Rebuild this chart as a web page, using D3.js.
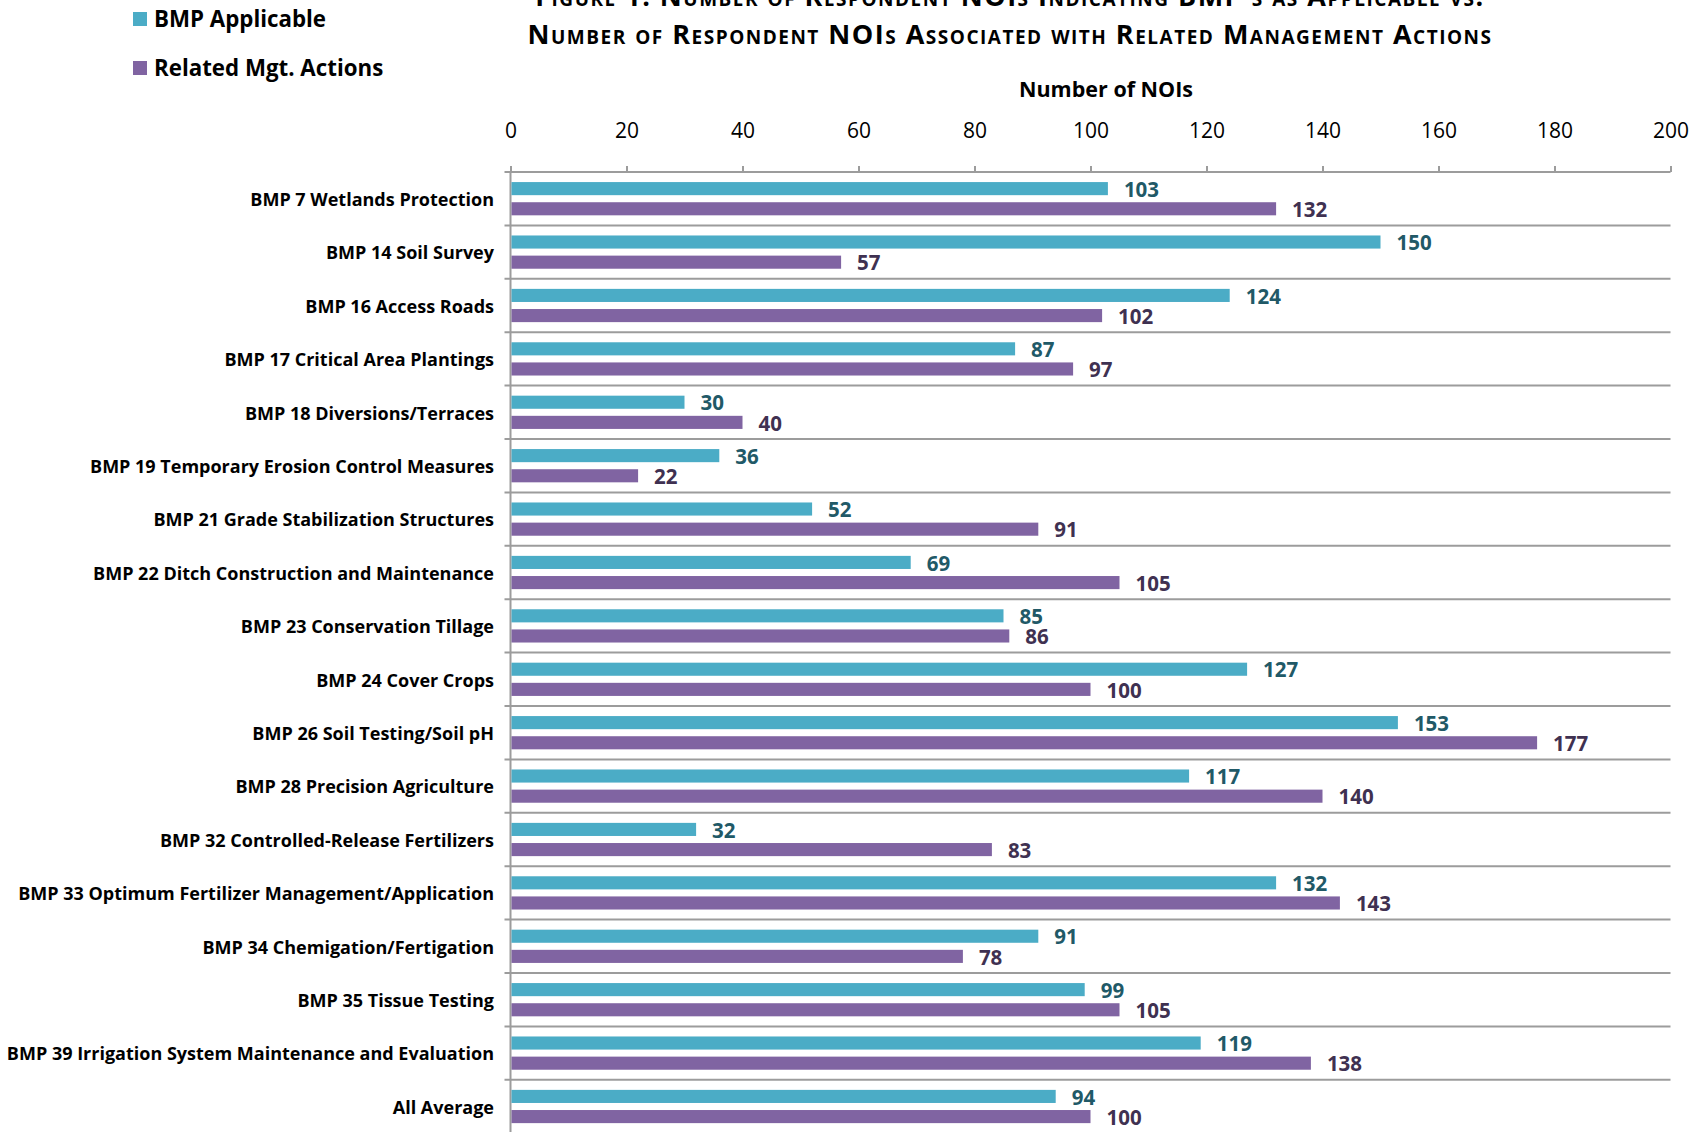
<!DOCTYPE html>
<html>
<head>
<meta charset="utf-8">
<script src="https://cdn.jsdelivr.net/npm/d3@7"></script>
<style>
  body { margin: 0; background: #fff; }
  svg { display: block; font-family: "Open Sans", Lato, sans-serif; }
</style>
</head>
<body>
<div id="chart"></div>
<script>
const categories = [
  "BMP 7 Wetlands Protection",
  "BMP 14 Soil Survey",
  "BMP 16 Access Roads",
  "BMP 17 Critical Area Plantings",
  "BMP 18 Diversions/Terraces",
  "BMP 19 Temporary Erosion Control Measures",
  "BMP 21 Grade Stabilization Structures",
  "BMP 22 Ditch Construction and Maintenance",
  "BMP 23 Conservation Tillage",
  "BMP 24 Cover Crops",
  "BMP 26 Soil Testing/Soil pH",
  "BMP 28 Precision Agriculture",
  "BMP 32 Controlled-Release Fertilizers",
  "BMP 33 Optimum Fertilizer Management/Application",
  "BMP 34 Chemigation/Fertigation",
  "BMP 35 Tissue Testing",
  "BMP 39 Irrigation System Maintenance and Evaluation",
  "All Average"
];
const applicable = [103, 150, 124, 87, 30, 36, 52, 69, 85, 127, 153, 117, 32, 132, 91, 99, 119, 94];
const related = [132, 57, 102, 97, 40, 22, 91, 105, 86, 100, 177, 140, 83, 143, 78, 105, 138, 100];
const seriesNames = ["BMP Applicable", "Related Mgt. Actions"];
const xTicks = [0, 20, 40, 60, 80, 100, 120, 140, 160, 180, 200];
const titleLines = [
  "Figure 1:  Number of Respondent NOIs Indicating BMP's as Applicable vs.",
  "Number of Respondent NOIs Associated with Related Management Actions"
];

const W = 1707, H = 1132;
const fill = ["#4BACC6", "#8064A2"];
const labelFill = ["#215967", "#3F3151"];
const gridColor = "#9c9c9c";

const svg = d3.select("#chart").append("svg")
  .attr("width", W)
  .attr("height", H);

const x = d3.scaleLinear().domain([0, 200]).range([510.5, 1670.5]);
const y = d3.scaleBand().domain(categories).range([172, 172 + 53.4 * categories.length]);
const ySub = d3.scaleBand().domain([0, 1]).range([0, y.bandwidth()])
  .paddingInner(0.35).paddingOuter(0.5);

// title (first line is cut by the top edge, as in the source)
svg.append("g").selectAll("text")
  .data(titleLines)
  .join("text")
    .attr("x", 1010)
    .attr("y", (d, i) => 6 + i * 37.5)
    .attr("text-anchor", "middle")
    .style("font-variant", "small-caps")
    .style("letter-spacing", "1.5px")
    .attr("font-weight", "bold")
    .attr("font-size", 27)
    .text(d => d);

// legend
const legend = svg.append("g");
seriesNames.forEach((name, i) => {
  legend.append("rect")
    .attr("x", 133).attr("y", 12 + i * 49)
    .attr("width", 14).attr("height", 14)
    .attr("fill", fill[i]);
  legend.append("text")
    .attr("x", 154).attr("y", 19 + i * 49)
    .attr("dy", "0.35em")
    .attr("font-weight", "bold")
    .attr("font-size", 22.3)
    .text(name);
});

// axis title
svg.append("text")
  .attr("x", 1106).attr("y", 97)
  .attr("text-anchor", "middle")
  .attr("font-weight", "bold")
  .attr("font-size", 21.5)
  .text("Number of NOIs");

// horizontal separators between categories
const bounds = d3.range(categories.length + 1).map(i => y.range()[0] + i * y.step());
svg.append("g").selectAll("line")
  .data(bounds)
  .join("line")
    .attr("x1", x(0) - 6).attr("x2", x(200))
    .attr("y1", d => d).attr("y2", d => d)
    .attr("stroke", gridColor)
    .attr("stroke-width", 2);

// left axis line
svg.append("line")
  .attr("x1", x(0)).attr("x2", x(0))
  .attr("y1", y.range()[0]).attr("y2", H)
  .attr("stroke", gridColor).attr("stroke-width", 2);

// top value axis
const xAxis = d3.axisTop(x).tickValues(xTicks).tickSize(6).tickPadding(28).tickSizeOuter(0);
const gx = svg.append("g")
  .attr("transform", "translate(0," + y.range()[0] + ")")
  .call(xAxis);
gx.select(".domain").remove();
gx.selectAll("line").attr("stroke", gridColor).attr("stroke-width", 2);
gx.selectAll("text")
  .attr("font-size", 21)
  .attr("font-family", "'Open Sans', sans-serif")
  .attr("fill", "#000");

// bars
const rows = categories.map((c, i) => ({ cat: c, vals: [applicable[i], related[i]] }));
const rowG = svg.append("g").selectAll("g")
  .data(rows)
  .join("g")
    .attr("transform", d => "translate(0," + y(d.cat) + ")");

rowG.selectAll("rect")
  .data(d => d.vals)
  .join("rect")
    .attr("x", x(0) + 1)
    .attr("y", (d, i) => ySub(i))
    .attr("width", d => x(d) - x(0) - 1)
    .attr("height", ySub.bandwidth())
    .attr("fill", (d, i) => fill[i]);

rowG.selectAll("text.val")
  .data(d => d.vals)
  .join("text")
    .attr("class", "val")
    .attr("x", d => x(d) + 16)
    .attr("y", (d, i) => ySub(i) + ySub.bandwidth() / 2 + 1)
    .attr("dy", "0.35em")
    .attr("font-weight", "bold")
    .attr("font-size", 20.5)
    .attr("fill", (d, i) => labelFill[i])
    .text(d => d);

// category labels
rowG.append("text")
  .attr("x", 494)
  .attr("y", y.bandwidth() / 2 + 1)
  .attr("dy", "0.35em")
  .attr("text-anchor", "end")
  .attr("font-weight", "bold")
  .attr("font-size", 18)
  .text(d => d.cat);
</script>
</body>
</html>
